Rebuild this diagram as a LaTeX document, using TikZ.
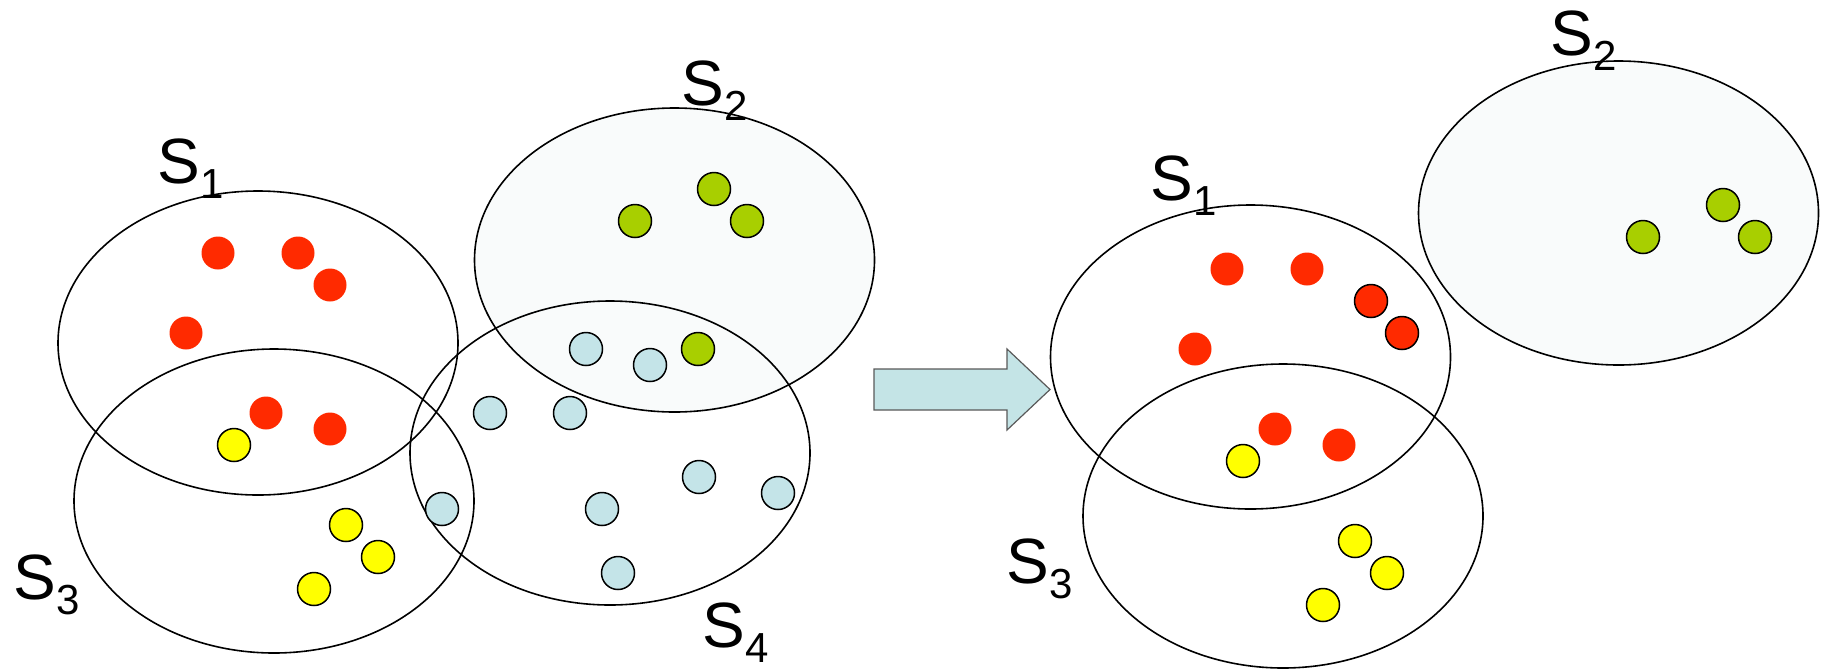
\documentclass[tikz,border=0pt]{standalone}
\usepackage{fontspec}
\setmainfont{Liberation Sans}
\usetikzlibrary{shapes.geometric}
\definecolor{dotred}{HTML}{FF2A00}
\definecolor{dotyellow}{HTML}{FFFF00}
\definecolor{dotgreen}{HTML}{A8CF00}
\definecolor{dotblue}{HTML}{C4E4E8}
\definecolor{setfill}{HTML}{F9FBFB}
\definecolor{arrowfill}{HTML}{C4E4E6}
\newcommand{\setlabel}[1]{S\raisebox{-7.6pt}{\fontsize{21}{21}\selectfont #1}}
\tikzset{
  setellipse/.style={ellipse, draw=black, line width=0.8pt, inner sep=0pt,
    minimum width=200pt, minimum height=152pt},
  filledset/.style={setellipse, fill=setfill},
  dot/.style={circle, inner sep=0pt, minimum size=16.5pt},
  plaindot/.style={dot, fill=#1},
  ringdot/.style={dot, fill=#1, draw=black, line width=0.75pt},
  setname/.style={anchor=base west, inner sep=0pt, font=\fontsize{32}{32}\selectfont},
}
\begin{document}
\begin{tikzpicture}[x=0.5pt, y=-0.5pt]
\useasboundingbox (0,0) rectangle (1825,670);

% ---------- sets before the split ----------
\node[filledset] (s2a) at (674.5,260) {};
\node[setellipse] (s1a) at (258,343) {};
\node[setellipse] (s3a) at (274,501) {};
\node[setellipse] (s4a) at (610,453) {};

\node[setname] (l1a) at (157,183) {\setlabel{1}};
\node[setname] (l2a) at (681,105) {\setlabel{2}};
\node[setname] (l3a) at (13,599) {\setlabel{3}};
\node[setname] (l4a) at (702,647) {\setlabel{4}};

% elements of S1
\node[plaindot=dotred] (a1) at (218,253) {};
\node[plaindot=dotred] (a2) at (298,253) {};
\node[plaindot=dotred] (a3) at (330,285) {};
\node[plaindot=dotred] (a4) at (186,333) {};
\node[plaindot=dotred] (a5) at (266,413) {};
\node[plaindot=dotred] (a6) at (330,429) {};
% elements of S3
\node[ringdot=dotyellow] (b1) at (234,445) {};
\node[ringdot=dotyellow] (b2) at (346,525) {};
\node[ringdot=dotyellow] (b3) at (378,557) {};
\node[ringdot=dotyellow] (b4) at (314,589) {};
% elements of S2
\node[ringdot=dotgreen] (c1) at (635,221) {};
\node[ringdot=dotgreen] (c2) at (714,189) {};
\node[ringdot=dotgreen] (c3) at (747,221) {};
\node[ringdot=dotgreen] (c4) at (698,349) {};
% elements of S4
\node[ringdot=dotblue] (d1) at (586,349) {};
\node[ringdot=dotblue] (d2) at (650,365) {};
\node[ringdot=dotblue] (d3) at (490,413) {};
\node[ringdot=dotblue] (d4) at (570,413) {};
\node[ringdot=dotblue] (d5) at (442,509) {};
\node[ringdot=dotblue] (d6) at (699,477) {};
\node[ringdot=dotblue] (d7) at (778,493) {};
\node[ringdot=dotblue] (d8) at (602,509) {};
\node[ringdot=dotblue] (d9) at (618,573) {};

% ---------- block arrow ----------
\coordinate (tail) at (874,389.5);
\coordinate (tip) at (1050,389.5);
\draw[fill=arrowfill, draw=black!65, line width=0.6pt]
  (874,369) -- (1007,369) -- (1007,349) -- (tip) -- (1007,430) -- (1007,410) -- (874,410) -- cycle;

% ---------- sets after the split ----------
\node[filledset] (s2b) at (1618.5,213) {};
\node[setellipse] (s1b) at (1250.5,357) {};
\node[setellipse] (s3b) at (1283,516) {};

\node[setname] (l1b) at (1150,200) {\setlabel{1}};
\node[setname] (l2b) at (1550,55) {\setlabel{2}};
\node[setname] (l3b) at (1006,583) {\setlabel{3}};

\node[plaindot=dotred] (e1) at (1227,269) {};
\node[plaindot=dotred] (e2) at (1307,269) {};
\node[ringdot=dotred] (e3) at (1371,301) {};
\node[ringdot=dotred] (e4) at (1402,333) {};
\node[plaindot=dotred] (e5) at (1195,349) {};
\node[plaindot=dotred] (e6) at (1275,429) {};
\node[plaindot=dotred] (e7) at (1339,445) {};

\node[ringdot=dotyellow] (f1) at (1243,461) {};
\node[ringdot=dotyellow] (f2) at (1355,541) {};
\node[ringdot=dotyellow] (f3) at (1387,573) {};
\node[ringdot=dotyellow] (f4) at (1323,605) {};

\node[ringdot=dotgreen] (g1) at (1643,237) {};
\node[ringdot=dotgreen] (g2) at (1723,205) {};
\node[ringdot=dotgreen] (g3) at (1755,237) {};
\end{tikzpicture}
\end{document}
